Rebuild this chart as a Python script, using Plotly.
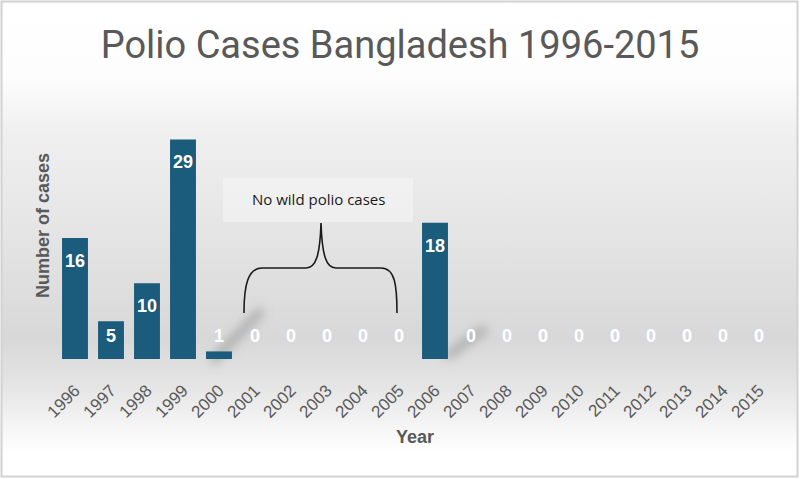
import base64
import plotly.graph_objs as go

# Data
years = ["1996", "1997", "1998", "1999", "2000", "2001", "2002", "2003", "2004", "2005",
         "2006", "2007", "2008", "2009", "2010", "2011", "2012", "2013", "2014", "2015"]
cases = [16, 5, 10, 29, 1, 0, 0, 0, 0, 0, 18, 0, 0, 0, 0, 0, 0, 0, 0, 0]
note_text = "No wild polio cases"

W, H = 800, 479
ML, MR, MT, MB = 57, 23, 132, 120
PW, PH = W - ML - MR, H - MT - MB

BAR_COLOR = "#1b5b7b"
GREY_TEXT = "#595959"


def to_paper(px, py):
    return (px - ML) / PW, (H - MB - py) / PH


# background: soft vertical grey gradient with a thin frame
svg = """<svg xmlns='http://www.w3.org/2000/svg' width='800' height='479' viewBox='0 0 800 479' preserveAspectRatio='none'>
<defs>
<linearGradient id='g' x1='0' y1='0' x2='0' y2='1'>
<stop offset='0' stop-color='#ffffff'/>
<stop offset='0.16' stop-color='#fdfdfd'/>
<stop offset='0.27' stop-color='#f0f0f0'/>
<stop offset='0.5' stop-color='#e4e4e4'/>
<stop offset='0.71' stop-color='#d8d8d8'/>
<stop offset='0.8' stop-color='#e3e3e3'/>
<stop offset='0.9' stop-color='#f6f6f6'/>
<stop offset='0.95' stop-color='#ffffff'/>
<stop offset='1' stop-color='#ffffff'/>
</linearGradient>
<filter id='b' x='-50%' y='-50%' width='200%' height='200%'><feGaussianBlur stdDeviation='5'/></filter>
</defs>
<rect x='1.5' y='1.5' width='796' height='475' fill='url(#g)' stroke='#d2d2d2' stroke-width='2'/>
<path d='M212,362 L262,310' stroke='#8f8f8f' stroke-width='10' stroke-opacity='0.5' filter='url(#b)'/>
<path d='M446,357 L486,328' stroke='#8f8f8f' stroke-width='10' stroke-opacity='0.5' filter='url(#b)'/>
</svg>"""
bg_src = "data:image/svg+xml;base64," + base64.b64encode(svg.encode()).decode()

# label position: inside the top of the bar, or just above the baseline for short bars
label_y = [max(v - 3.2, 2.9) for v in cases]

fig = go.Figure()

fig.add_trace(go.Bar(x=years, y=cases, marker_color=BAR_COLOR, marker_line_width=0,
                     hoverinfo="x+y"))
fig.add_trace(go.Scatter(x=years, y=label_y, text=[str(v) for v in cases], mode="text",
                         textfont=dict(family="Liberation Sans", size=18, color="white"),
                         texttemplate="<b>%{text}</b>", hoverinfo="skip"))

# curly brace over the zero years
pts = [(244, 313), (244, 285), (248, 268), (262, 268), (306, 268),
       (316, 268), (320, 255), (321, 223), (322, 255), (326, 268), (336, 268),
       (381, 268), (395, 268), (397, 285), (397, 313)]
pp = ["{:.4f},{:.4f}".format(*to_paper(x, y)) for x, y in pts]
brace = ("M {} C {} {} {} L {} C {} {} {} C {} {} {} L {} C {} {} {}"
         .format(*pp))
fig.add_shape(type="path", path=brace, xref="paper", yref="paper",
              line=dict(color="#1a1a1a", width=1.6))

bx0, by0 = to_paper(223, 222)
bx1, by1 = to_paper(413, 178)
fig.add_shape(type="rect", xref="paper", yref="paper", x0=bx0, x1=bx1, y0=by0, y1=by1,
              fillcolor="rgba(255,255,255,0.35)", line_width=0, layer="below")
tx, ty = to_paper(318, 199)
fig.add_annotation(x=tx, y=ty, xref="paper", yref="paper", text=note_text, showarrow=False,
                   xanchor="center", yanchor="middle",
                   font=dict(family="Open Sans", size=15, color="#1a1a1a"))

# axis titles
ax, ay = to_paper(43, 226)
fig.add_annotation(x=ax, y=ay, xref="paper", yref="paper", text="<b>Number of cases</b>",
                   textangle=-90, showarrow=False, xanchor="center", yanchor="middle",
                   font=dict(family="Liberation Sans", size=18, color=GREY_TEXT))
yx, yy = to_paper(415, 437)
fig.add_annotation(x=yx, y=yy, xref="paper", yref="paper", text="<b>Year</b>", showarrow=False,
                   xanchor="center", yanchor="middle",
                   font=dict(family="Liberation Sans", size=18, color=GREY_TEXT))

fig.add_layout_image(source=bg_src, xref="paper", yref="paper",
                     x=-ML / PW, y=1 + MT / PH, sizex=W / PW, sizey=H / PH,
                     xanchor="left", yanchor="top", sizing="stretch", layer="below")

fig.update_layout(
    width=W, height=H,
    margin=dict(l=ML, r=MR, t=MT, b=MB, autoexpand=False),
    paper_bgcolor="white", plot_bgcolor="rgba(0,0,0,0)",
    showlegend=False, bargap=0.28,
    title=dict(text="Polio Cases Bangladesh 1996-2015", x=0.5, xanchor="center",
               y=1 - 45 / H, yanchor="middle",
               font=dict(family="Roboto", size=38, color=GREY_TEXT)),
    xaxis=dict(type="category", range=[-0.5, len(years) - 0.5], tickangle=-45,
               showgrid=False, showline=False, zeroline=False,
               automargin=False, ticks="outside", ticklen=14, tickcolor="rgba(0,0,0,0)",
               tickfont=dict(family="Liberation Sans", size=17, color=GREY_TEXT)),
    yaxis=dict(range=[0, 30], visible=False, showgrid=False, automargin=False),
)

fig.write_html("out.html", config={"displayModeBar": False},
               post_script="document.body.style.margin='0';")
